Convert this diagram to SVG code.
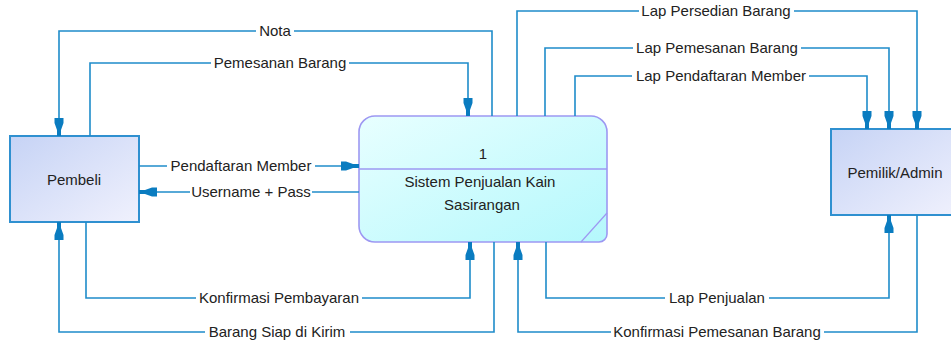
<svg xmlns="http://www.w3.org/2000/svg" width="951" height="345" viewBox="0 0 951 345">
<defs>
<linearGradient id="gExt" x1="0" y1="0" x2="1" y2="1">
<stop offset="0" stop-color="#c6d3f5"/>
<stop offset="1" stop-color="#f0f1fd"/>
</linearGradient>
<linearGradient id="gProc" x1="0" y1="0" x2="1" y2="1">
<stop offset="0" stop-color="#e8ffff"/>
<stop offset="1" stop-color="#b4f8fc"/>
</linearGradient>
<marker id="arr" markerUnits="userSpaceOnUse" markerWidth="20" markerHeight="12" refX="19" refY="6" orient="auto">
<path d="M1,1.5 L6,1.5 L13,4 L19,4 L19,8 L13,8 L6,10.5 L1,10.5 Z" fill="#0a7cc0"/>
</marker>
<style>
.ln{fill:none;stroke:#1f8cca;stroke-width:1.6}
.lbl{font-family:"Liberation Sans",Arial,sans-serif;font-size:15px;fill:#222;text-anchor:middle}
.bg{fill:#ffffff}
.ext{fill:url(#gExt);stroke:#2f90d0;stroke-width:2}
.proc{fill:url(#gProc);stroke:#9d98f2;stroke-width:1.6}
.txt{font-family:"Liberation Sans",Arial,sans-serif;font-size:15px;fill:#222;text-anchor:middle}
</style>
</defs>
<rect width="951" height="345" fill="#ffffff"/>

<g id="pembeli">
<rect class="ext" x="10" y="136" width="129" height="86"/>
<text class="txt" x="74" y="185">Pembeli</text>
</g>

<g id="proses1">
<path class="proc" d="M375,116 H591 A16,16 0 0 1 607,132 V234 A8,8 0 0 1 599,242 H375 A16,16 0 0 1 359,226 V132 A16,16 0 0 1 375,116 Z"/>
<line x1="359" y1="169" x2="607" y2="169" stroke="#9d98f2" stroke-width="1.6"/>
<line x1="581" y1="242" x2="607" y2="213" stroke="#9d98f2" stroke-width="1.2"/>
<text class="txt" x="483" y="159">1</text>
<text class="txt" x="480" y="187">Sistem Penjualan Kain</text>
<text class="txt" x="482" y="210">Sasirangan</text>
</g>

<g id="pemilik">
<rect class="ext" x="831" y="129" width="130" height="86"/>
<text class="txt" x="895" y="178">Pemilik/Admin</text>
</g>

<g id="connectors">
<polyline class="ln" points="492,116 492,31 59,31 59,136" marker-end="url(#arr)"/>
<polyline class="ln" points="90,136 90,63 468,63 468,116" marker-end="url(#arr)"/>
<polyline class="ln" points="139,166 359,166" marker-end="url(#arr)"/>
<polyline class="ln" points="359,192 139,192" marker-end="url(#arr)"/>
<polyline class="ln" points="86,222 86,298 470,298 470,242" marker-end="url(#arr)"/>
<polyline class="ln" points="494,242 494,332 59,332 59,222" marker-end="url(#arr)"/>
<polyline class="ln" points="517,116 517,11 917,11 917,129" marker-end="url(#arr)"/>
<polyline class="ln" points="545,116 545,48 889,48 889,129" marker-end="url(#arr)"/>
<polyline class="ln" points="575,116 575,76 867,76 867,129" marker-end="url(#arr)"/>
<polyline class="ln" points="546,242 546,298 889,298 889,215" marker-end="url(#arr)"/>
<polyline class="ln" points="917,215 917,332 518,332 518,242" marker-end="url(#arr)"/>

<rect class="bg" x="256" y="22" width="38" height="18"/>
<text class="lbl" x="275" y="36">Nota</text>
<rect class="bg" x="211" y="54" width="138" height="18"/>
<text class="lbl" x="280" y="68">Pemesanan Barang</text>
<rect class="bg" x="167" y="157" width="148" height="18"/>
<text class="lbl" x="241" y="171">Pendaftaran Member</text>
<rect class="bg" x="190" y="183" width="122" height="18"/>
<text class="lbl" x="251" y="197">Username + Pass</text>
<rect class="bg" x="196" y="289" width="166" height="18"/>
<text class="lbl" x="279" y="303">Konfirmasi Pembayaran</text>
<rect class="bg" x="205" y="323" width="145" height="18"/>
<text class="lbl" x="277" y="337">Barang Siap di Kirim</text>
<rect class="bg" x="639" y="2" width="155" height="18"/>
<text class="lbl" x="716" y="16">Lap Persedian Barang</text>
<rect class="bg" x="633" y="39" width="168" height="18"/>
<text class="lbl" x="717" y="53">Lap Pemesanan Barang</text>
<rect class="bg" x="632" y="67" width="177" height="18"/>
<text class="lbl" x="721" y="81">Lap Pendaftaran Member</text>
<rect class="bg" x="665" y="289" width="104" height="18"/>
<text class="lbl" x="717" y="303">Lap Penjualan</text>
<rect class="bg" x="611" y="323" width="213" height="18"/>
<text class="lbl" x="717" y="337">Konfirmasi Pemesanan Barang</text>
</g>
</svg>
